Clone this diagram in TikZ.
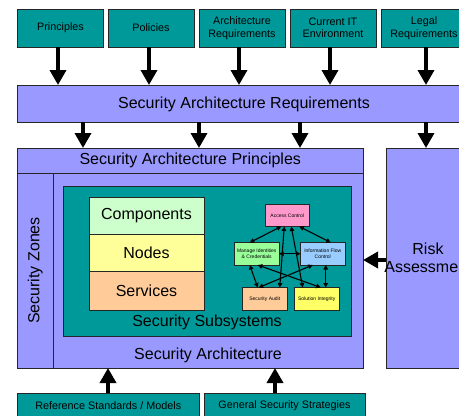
\documentclass[tikz,border=0pt]{standalone}
\usepackage{fontspec}
\setmainfont{Liberation Sans}
\usetikzlibrary{arrows.meta,calc}
\definecolor{tealc}{HTML}{009999}
\definecolor{lav}{HTML}{9999FF}
\definecolor{compc}{HTML}{CCFFCC}
\definecolor{nodec}{HTML}{FFFF99}
\definecolor{servc}{HTML}{FFCC99}
\definecolor{acc}{HTML}{FF99CC}
\definecolor{mic}{HTML}{99FF99}
\definecolor{ifc}{HTML}{99CCFF}
\definecolor{sac}{HTML}{FFCC99}
\definecolor{sic}{HTML}{FFFF66}
\tikzset{
  box/.style={draw=black!85, line width=0.8pt, inner sep=0pt, outer sep=0pt, anchor=north west, align=center},
  topbox/.style={box, fill=tealc, minimum width=86pt, minimum height=38pt, font=\fontsize{10.8}{12.5}\selectfont},
  botbox/.style={box, fill=tealc, minimum height=25pt, font=\fontsize{10.8}{12.5}\selectfont},
  big/.style={font=\fontsize{16}{17.5}\selectfont},
  layer/.style={box, big, minimum width=115pt},
  small/.style={box, minimum width=44.5pt, minimum height=22.5pt, font=\fontsize{5}{6}\selectfont},
  arr/.style={line width=3.5pt, -{Triangle[width=16pt,length=15pt]}},
  link/.style={line width=1.1pt, {Triangle[width=4.5pt,length=4.5pt]}-{Triangle[width=4.5pt,length=4.5pt]}}
}
\begin{document}
\begin{tikzpicture}[x=1pt,y=-1pt]
\useasboundingbox (0,0) rectangle (459,416);
\clip (0,0) rectangle (459,416);
% top boxes
\node[topbox] (pr) at (17.5,9) {Principles};
\node[topbox] (po) at (108,9) {Policies};
\node[topbox] (ar) at (199,9) {Architecture\\Requirements};
\node[topbox] (ci) at (290,9) {Current IT\\Environment};
\node[topbox] (lr) at (381,9) {Legal\\Requirements};
% band
\node[box, fill=lav, big, minimum width=460pt, minimum height=37pt] (sar) at (17.5,85) {};
\node[big] (sartext) at (244,104) {Security Architecture Requirements};
% arrows top
\foreach \n/\x in {pr/58,po/149,ar/239,ci/330,lr/426}{
  \draw[arr] (\x,47) coordinate (a\n) -- (a\n |- sar.north);
}
% outer box
\node[box, fill=lav, minimum width=345.5pt, minimum height=220pt] (outer) at (17.5,148) {};
\node[box, fill=lav, big, minimum width=345.5pt, minimum height=25pt] (sap) at (17.5,148) {Security Architecture Principles};
\node[box, fill=lav, minimum width=35.5pt, minimum height=195pt] (zones) at (17.5,173) {};
\node[big, rotate=90] (zt) at (zones.center) {Security Zones};
\node[big] (sa) at (208,355) {Security Architecture};
% arrows from band
\foreach \x in {83,199,300}{
  \draw[arr] (\x,122) coordinate (b\x) -- (b\x |- sap.north);
}
% risk
\node[box, fill=lav, big, minimum width=85pt, minimum height=220pt] (risk) at (386,148) {};
\node[big, align=center] (rt) at (428,258) {Risk\\Assessment};
\draw[arr] (426,122) coordinate (b426) -- (b426 |- risk.north);
\coordinate (ry) at (0,260);
\draw[arr] (risk.west |- ry) -- (outer.east |- ry);
% subsystems
\node[box, fill=tealc, minimum width=288pt, minimum height=150pt] (ss) at (63,186) {};
\node[big] (sst) at (207,322) {Security Subsystems};
\node[layer, fill=compc, minimum height=37pt] (comp) at (89,197) {Components};
\node[layer, fill=nodec, minimum height=37pt] (nod) at (89,234) {Nodes};
\node[layer, fill=servc, minimum height=39pt] (serv) at (89,271) {Services};
% pentagon
\node[small, fill=acc] (ac) at (265,204) {Access Control};
\node[small, fill=mic] (mi) at (234.5,242.5) {Manage Identities\\\& Credentials};
\node[small, fill=ifc] (if) at (300.5,242.5) {Information Flow\\Control};
\node[small, fill=sac] (sau) at (242.5,287.5) {Security Audit};
\node[small, fill=sic] (si) at (294.5,287.5) {Solution Integrity};
\draw[link] ([xshift=-6pt]ac.south) -- ([xshift=-7pt]mi.north);
\draw[link] ([xshift=12pt]ac.south) -- ([xshift=8pt]if.north);
\draw[link] ([xshift=-3pt]ac.south) -- ([xshift=15pt]sau.north);
\draw[link] ([xshift=4pt]ac.south) -- ([xshift=-14pt]si.north);
\draw[link] (mi.east) -- (if.east -| if.west);
\draw[link] ([xshift=-7pt]mi.south) -- ([xshift=-7pt]sau.north);
\draw[link] ([xshift=1pt]mi.south) -- ([xshift=4pt]si.north);
\draw[link] ([xshift=-10pt]if.south) -- ([xshift=-6pt]sau.north);
\draw[link] ([xshift=3pt]if.south) -- ([xshift=9pt]si.north);
% bottom
\node[botbox, minimum width=181.5pt] (rs) at (17.5,393) {Reference Standards / Models};
\node[botbox, minimum width=161pt] (gs) at (204,393) {General Security Strategies};
\draw[arr] (108,393) coordinate (c1) -- (c1 |- outer.south);
\draw[arr] (275,393) coordinate (c2) -- (c2 |- outer.south);
\end{tikzpicture}
\end{document}
